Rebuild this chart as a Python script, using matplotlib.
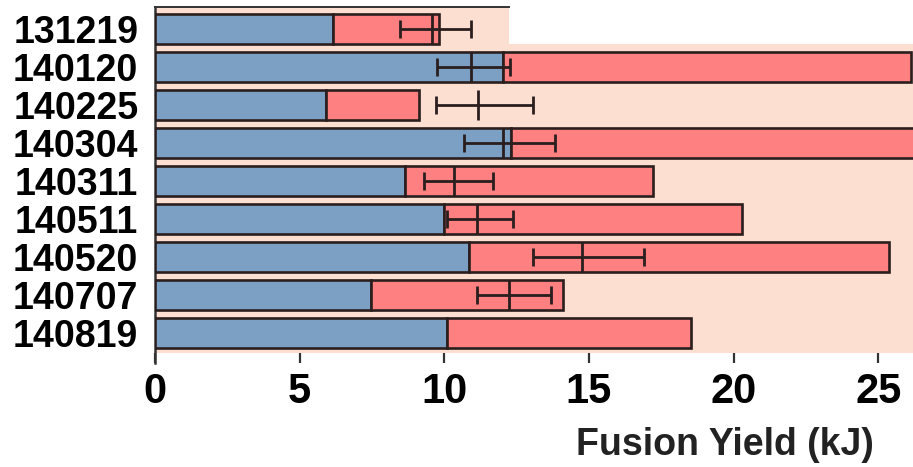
import numpy as np
import matplotlib
matplotlib.use("Agg")
import matplotlib.pyplot as plt
from matplotlib.patches import Rectangle

plt.rcParams['font.family'] = ['Liberation Sans', 'DejaVu Sans']

# Shot identifiers and fusion yield components (kJ)
shots = ['131219', '140120', '140225', '140304', '140311',
         '140511', '140520', '140707', '140819']
blue_part = [6.15, 12.02, 5.90, 12.30, 8.64, 10.00, 10.87, 7.47, 10.10]
total_yield = [9.83, 26.13, 9.14, 27.0, 17.22, 20.28, 25.38, 14.11, 18.53]

# Measured yield with uncertainty range (kJ)
meas_mid = [9.56, 10.92, 11.18, 12.04, 10.34, 11.12, 14.77, 12.24, np.nan]
meas_lo = [8.47, 9.74, 9.71, 10.68, 9.31, 10.08, 13.08, 11.13, np.nan]
meas_hi = [10.91, 12.27, 13.05, 13.83, 11.69, 12.38, 16.91, 13.69, np.nan]

xticks = [0, 5, 10, 15, 20, 25]

BLUE = '#7BA0C4'
RED = '#FF8080'
PEACH = '#FDDFD2'
EDGE = '#2A1E1E'

fig = plt.figure(figsize=(9.13, 4.67), dpi=100, facecolor='white')
ax = fig.add_axes([155 / 913, 1 - 353 / 467, (913 - 155) / 913, (353 - 7) / 467])
ax.set_facecolor(PEACH)

y = np.arange(len(shots))
blue_arr = np.array(blue_part)
red_arr = np.array(total_yield) - blue_arr

ax.barh(y, blue_arr, height=0.79, color=BLUE, edgecolor=EDGE, linewidth=1.9, zorder=3)
ax.barh(y, red_arr, left=blue_arr, height=0.79, color=RED, edgecolor=EDGE,
        linewidth=1.9, zorder=3)

mid = np.array(meas_mid)
xerr = np.vstack([mid - np.array(meas_lo), np.array(meas_hi) - mid])
ax.errorbar(mid, y, xerr=xerr, fmt='|', color=EDGE, ecolor=EDGE,
            markersize=22, markeredgewidth=2.0, elinewidth=2.0, capsize=6.5,
            capthick=2.0, zorder=5)

xmax = (913 - 155) / 28.93
ax.set_xlim(0, xmax)
ax.set_ylim(8.53, -0.57)

# blank corner at the upper right of the plotting area
cut_x = (509 - 155) / 28.93
ax.add_patch(Rectangle((cut_x, -0.57), xmax - cut_x + 1, 0.98, facecolor='white',
                       edgecolor='none', zorder=1))

ax.set_yticks(y)
ax.set_yticklabels(shots, fontsize=27, fontweight='bold')
ax.set_xticks(xticks)
ax.set_xticklabels([str(t) for t in xticks], fontsize=30, fontweight='bold')
ax.tick_params(axis='y', length=0, pad=12)
ax.tick_params(axis='x', length=7, width=1.6, color='#333333', pad=7, direction='out')

for s in ['right', 'bottom']:
    ax.spines[s].set_visible(False)
ax.spines['top'].set_bounds(0, cut_x)
ax.spines['top'].set_color('#333333')
ax.spines['top'].set_linewidth(1.4)
ax.spines['left'].set_color('#333333')
ax.spines['left'].set_linewidth(1.8)
ax.spines['left'].set_bounds(8.78, -0.57)

fig.text(725 / 913, 1 - 455 / 467, 'Fusion Yield (kJ)', fontsize=27,
         fontweight='bold', color='#222222', ha='center', va='baseline')

fig.savefig('out.png', dpi=100, facecolor='white')
